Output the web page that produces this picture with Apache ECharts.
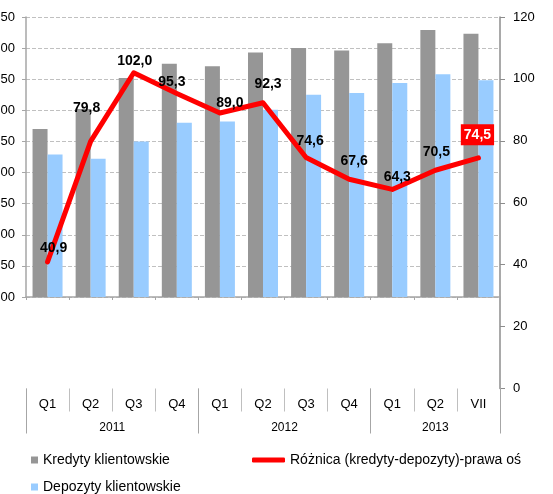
<!DOCTYPE html>
<html>
<head>
<meta charset="utf-8">
<script src="https://cdn.jsdelivr.net/npm/echarts@6/dist/echarts.min.js"></script>
<style>
  html, body { margin: 0; padding: 0; background: #fff; }
  #chart { width: 553px; height: 494px; }
</style>
</head>
<body>
<div id="chart"></div>
<script>
// dane (mld zł)
var quarters = ['Q1', 'Q2', 'Q3', 'Q4', 'Q1', 'Q2', 'Q3', 'Q4', 'Q1', 'Q2', 'VII'];
var years = ['2011', '2012', '2013'];
var yearCounts = [4, 4, 3];
var loans = [770, 802, 852, 875, 871, 893, 900, 896, 908, 929, 923];
var deposits = [729, 722, 750, 780, 782, 801, 825, 828, 844, 858, 848.5];
var diffs = [40.9, 79.8, 102.0, 95.3, 89.0, 92.3, 74.6, 67.6, 64.3, 70.5, 74.5];

var titleText = 'Kredyty i depozyty (dane w mld zł)';
var names = ['Kredyty klientowskie', 'Depozyty klientowskie', 'Różnica (kredyty-depozyty)-prawa oś'];

// przesunięcia etykiet linii (jak w oryginale)
var labelOffsets = [[6, -14], [-4, -33], [1, -12], [-5, -11], [10, -10], [5, -19],
                    [4, -16], [5, -18], [5, -12], [1, -18], [-1, -23]];

// granice i środki lat na osi
var yearBounds = [0], yearCenters = [];
yearCounts.forEach(function (c, i) {
    yearCenters.push(yearBounds[i] + c / 2);
    yearBounds.push(yearBounds[i] + c);
});

var font = '"Liberation Sans", Arial, sans-serif';
var myChart = echarts.init(document.getElementById('chart'));

var lineData = diffs.map(function (v, i) {
    var item = { value: v, label: { offset: labelOffsets[i] } };
    if (i === diffs.length - 1) {
        item.label.color = '#fff';
        item.label.backgroundColor = '#ff0000';
        item.label.padding = [4, 3, 3, 3];
    }
    return item;
});

option = {
    animation: false,
    backgroundColor: '#fff',
    textStyle: { fontFamily: font },
    title: {
        text: titleText,
        left: 52,
        top: -27,
        textStyle: { fontSize: 20, fontWeight: 'bold', color: '#000', fontFamily: font }
    },
    legend: [
        {
            orient: 'vertical',
            left: 31, top: 453, height: 60,
            padding: 0,
            itemWidth: 7, itemHeight: 7, itemGap: 13,
            icon: 'rect',
            textStyle: { fontSize: 14, color: '#000', fontFamily: font },
            data: [names[0], names[1]]
        },
        {
            left: 252, top: 453,
            padding: 0,
            itemWidth: 33, itemHeight: 5,
            icon: 'roundRect',
            textStyle: { fontSize: 14, color: '#000', fontFamily: font },
            data: [names[2]]
        }
    ],
    grid: [
        { left: 26, right: 53, top: 17, height: 280, outerBoundsMode: 'none' },
        { left: 26, right: 53, top: 17, height: 371.5, outerBoundsMode: 'none' }
    ],
    xAxis: [
        {
            type: 'category',
            gridIndex: 0,
            position: 'bottom',
            data: quarters,
            axisLine: { lineStyle: { color: '#a6a6a6', width: 1.5 } },
            axisTick: { show: true, length: 3, lineStyle: { color: '#a6a6a6' } },
            axisLabel: { show: false }
        },
        {
            type: 'category',
            gridIndex: 1,
            position: 'bottom',
            data: quarters,
            axisLine: { show: false },
            axisTick: { show: true, interval: 0, length: 23, lineStyle: { color: '#bfbfbf' } },
            axisLabel: { interval: 0, margin: 9, fontSize: 13, color: '#000', fontFamily: font }
        },
        {
            type: 'value',
            gridIndex: 1,
            position: 'bottom',
            min: 0,
            max: quarters.length,
            axisLine: { show: false },
            splitLine: { show: false },
            axisTick: { show: true, length: 45, customValues: yearBounds, lineStyle: { color: '#a6a6a6' } },
            axisLabel: {
                customValues: yearCenters,
                margin: 33,
                fontSize: 12,
                color: '#000',
                fontFamily: font,
                formatter: function (v) {
                    var i = yearCenters.indexOf(v);
                    return i >= 0 ? years[i] : '';
                }
            }
        }
    ],
    yAxis: [
        {
            type: 'value',
            gridIndex: 0,
            min: 500,
            max: 950,
            interval: 50,
            axisLine: { show: true, onZero: false, lineStyle: { color: '#a6a6a6', width: 1.5 } },
            axisTick: { show: true, length: 4, lineStyle: { color: '#a6a6a6' } },
            axisLabel: { margin: 11, fontSize: 13, color: '#000', fontFamily: font },
            splitLine: { show: true, lineStyle: { color: '#c0c0c0', type: [4, 2] } }
        },
        {
            type: 'value',
            gridIndex: 1,
            position: 'right',
            min: 0,
            max: 120,
            interval: 20,
            axisLine: { show: true, onZero: false, lineStyle: { color: '#8c8c8c', width: 1.5 } },
            axisTick: { show: true, length: 5, lineStyle: { color: '#8c8c8c' } },
            axisLabel: { margin: 13, fontSize: 13, color: '#000', fontFamily: font },
            splitLine: { show: false }
        }
    ],
    series: [
        {
            name: names[0],
            type: 'bar',
            xAxisIndex: 0, yAxisIndex: 0,
            barWidth: 15,
            barGap: '0%',
            itemStyle: { color: '#969696' },
            data: loans
        },
        {
            name: names[1],
            type: 'bar',
            xAxisIndex: 0, yAxisIndex: 0,
            barWidth: 15,
            itemStyle: { color: '#99ccff' },
            data: deposits
        },
        {
            name: names[2],
            type: 'line',
            xAxisIndex: 1, yAxisIndex: 1,
            symbol: 'circle',
            symbolSize: 1,
            itemStyle: { color: '#ff0000' },
            lineStyle: { color: '#ff0000', width: 5, cap: 'round', join: 'round' },
            label: {
                show: true,
                position: 'inside',
                fontSize: 14,
                fontWeight: 'bold',
                color: '#000',
                fontFamily: font,
                formatter: function (p) {
                    return p.value.toFixed(1).replace('.', ',');
                }
            },
            z: 5,
            data: lineData
        }
    ]
};

myChart.setOption(option);
</script>
</body>
</html>
